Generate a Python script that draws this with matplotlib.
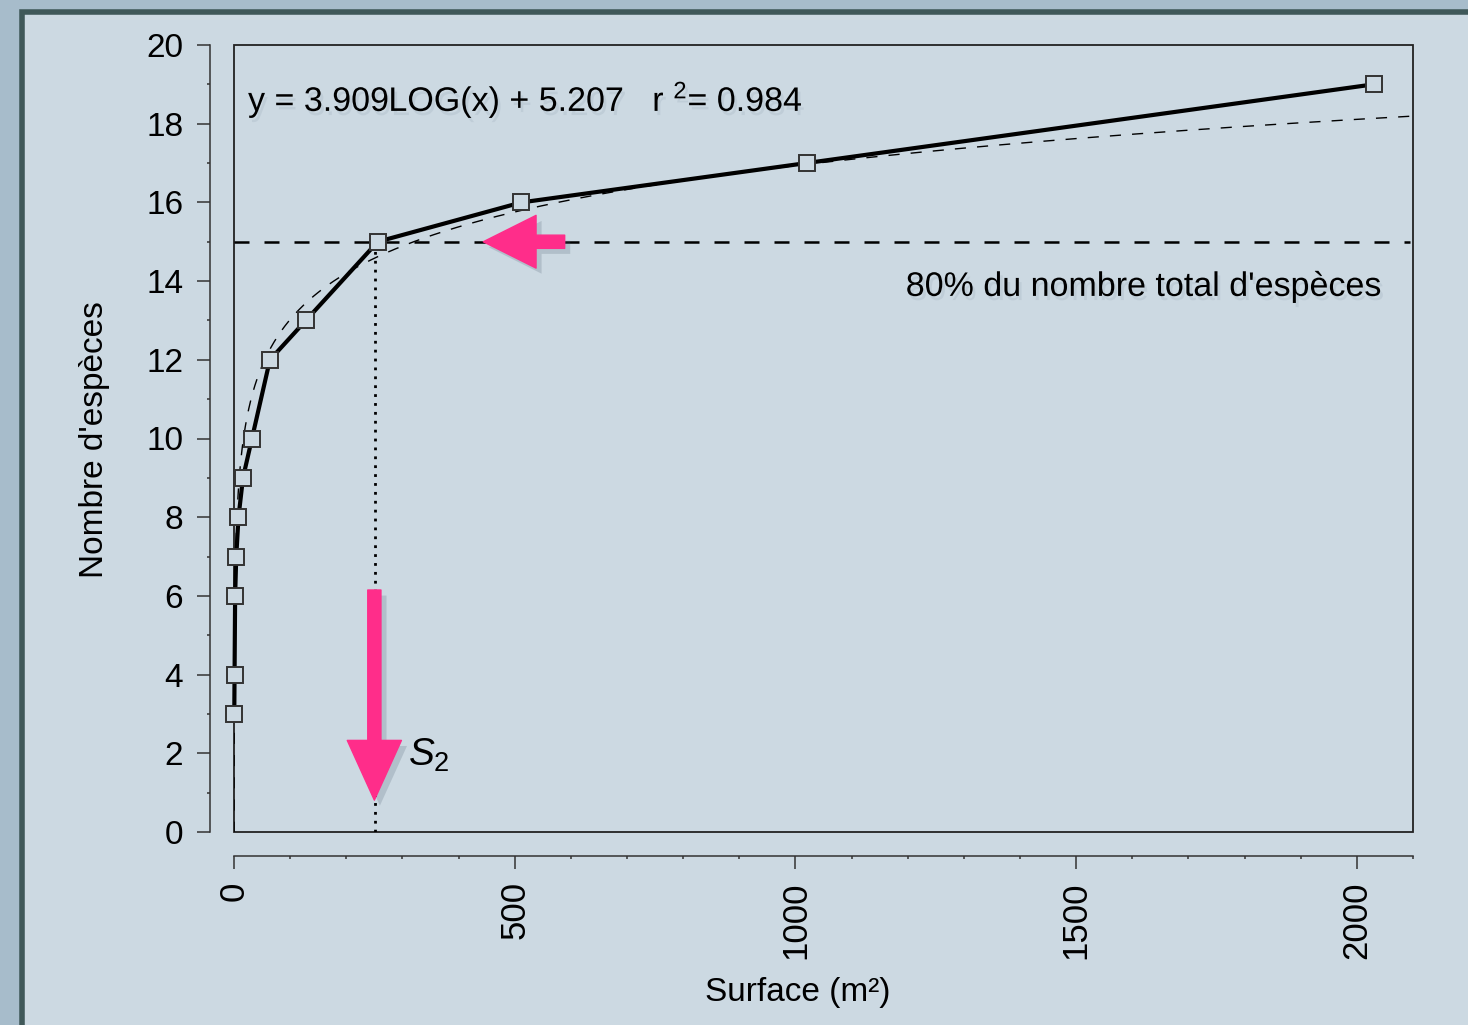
import numpy as np
import matplotlib.pyplot as plt
from matplotlib.patches import Rectangle
from matplotlib.ticker import MultipleLocator
import matplotlib.patheffects as pe

plt.rcParams['font.family'] = ['Liberation Sans', 'DejaVu Sans']
plt.rcParams['mathtext.fontset'] = 'custom'
plt.rcParams['mathtext.rm'] = 'Liberation Sans'
plt.rcParams['mathtext.it'] = 'Liberation Sans:italic'

surface = [0.5, 1, 2, 4, 8, 16, 32, 64, 128, 256, 512, 1020, 2030]
especes = [3, 4, 6, 7, 8, 9, 10, 12, 13, 15, 16, 17, 19]

# Ajustement logarithmique affiche sur le graphique
coef_a = 3.909
coef_b = 5.207
r2 = 0.984
seuil = 15          # 80% du nombre total d'especes
s2 = 252            # surface correspondante (ligne pointillee)

fig = plt.figure(figsize=(14.68, 10.25), dpi=100)
fig.patch.set_facecolor('#a7bccb')

# panneau de fond avec bordure sombre
fond = Rectangle((22 / 1468, -0.05), 1.2, 1.05 - 12 / 1025,
                 transform=fig.transFigure, facecolor='#ccd9e2',
                 edgecolor='#3f5859', lw=4, zorder=-5)
fig.add_artist(fond)

ax = fig.add_axes([234 / 1468, 1 - 832 / 1025, (1413 - 234) / 1468, (832 - 45) / 1025])
ax.set_zorder(2)
ax.patch.set_alpha(0)
ax.set_xlim(0, 2100)
ax.set_ylim(0, 20)

# cadre interieur
ax.add_patch(Rectangle((0, 0), 1, 1, transform=ax.transAxes, fill=False,
                       edgecolor='#222222', lw=1.3, clip_on=False, zorder=1))
for s in ['top', 'right']:
    ax.spines[s].set_visible(False)
for s in ['left', 'bottom']:
    ax.spines[s].set_position(('outward', 17))
    ax.spines[s].set_color('#333333')
    ax.spines[s].set_linewidth(1.1)

ax.xaxis.set_major_locator(MultipleLocator(500))
ax.xaxis.set_minor_locator(MultipleLocator(100))
ax.yaxis.set_major_locator(MultipleLocator(2))
ax.yaxis.set_minor_locator(MultipleLocator(1))
ax.tick_params(axis='both', which='major', length=9.5, width=1.1, color='#333333',
               labelsize=24, pad=10)
ax.tick_params(axis='x', which='major', labelsize=25, pad=9)
ax.tick_params(axis='both', which='minor', length=2, width=1.1, color='#333333')
ax.tick_params(axis='x', labelrotation=90)

# courbe ajustee
xf = np.logspace(np.log10(0.046), np.log10(2100), 400)
ax.plot(xf, coef_a * np.log10(xf) + coef_b, color='black', lw=1, ls=(0, (8, 8)), zorder=2)

# donnees
ax.plot(surface, especes, color='black', lw=3, zorder=3, clip_on=False)
ax.plot(surface, especes, ls='none', marker='s', ms=11, mfc='#ccd9e2', mec='#333333',
        mew=1.4, zorder=4, clip_on=False)

# ligne des 80%
ax.plot([0, 2095], [seuil, seuil], color='black', lw=1.8, ls=(0, (6, 6)), zorder=2)
ax.plot([s2, s2], [0, seuil], color='black', lw=2, ls=(0, (1, 2.2)), zorder=2)

shadow = [pe.SimplePatchShadow(offset=(4, -4), shadow_rgbFace='#556677', alpha=0.22), pe.Normal()]
txt_shadow = [pe.withSimplePatchShadow(offset=(2, -3), shadow_rgbFace='#8899aa', alpha=0.18)]

# fleches roses
rose = '#ff2d8a'
fl1 = ax.annotate('', xy=(250, 0.81), xytext=(250, 6.15),
                  arrowprops=dict(arrowstyle='simple,head_length=4.3,head_width=3.9,tail_width=0.95',
                                  mutation_scale=10, color=rose, shrinkA=0, shrinkB=0),
                  zorder=5)
fl2 = ax.annotate('', xy=(444, seuil), xytext=(589, seuil),
                  arrowprops=dict(arrowstyle='simple,head_length=3.8,head_width=3.8,tail_width=0.95',
                                  mutation_scale=10, color=rose, shrinkA=0, shrinkB=0),
                  zorder=5)
for f in (fl1, fl2):
    f.arrow_patch.set_path_effects(shadow)

ax.text(310, 1.96, r'$\mathit{S_2}$', fontsize=28, va='center', ha='left')

ax.text(25, 18.6, 'y = %.3fLOG(x) + %.3f   r $^{2}$= %.3f' % (coef_a, coef_b, r2),
        fontsize=24.5, va='center', ha='left', path_effects=txt_shadow)
ax.text(2045, 13.84, "80% du nombre total d'espèces", fontsize=24.5, va='center',
        ha='right', path_effects=txt_shadow)

fig.text(95 / 1468, 1 - 440 / 1025, "Nombre d'espèces", rotation=90, fontsize=24,
         ha='center', va='center')
fig.text(798 / 1468, 1 - 992 / 1025, 'Surface (m²)', fontsize=24, ha='center', va='center')

fig.savefig('out.png', dpi=100, facecolor=fig.get_facecolor())
